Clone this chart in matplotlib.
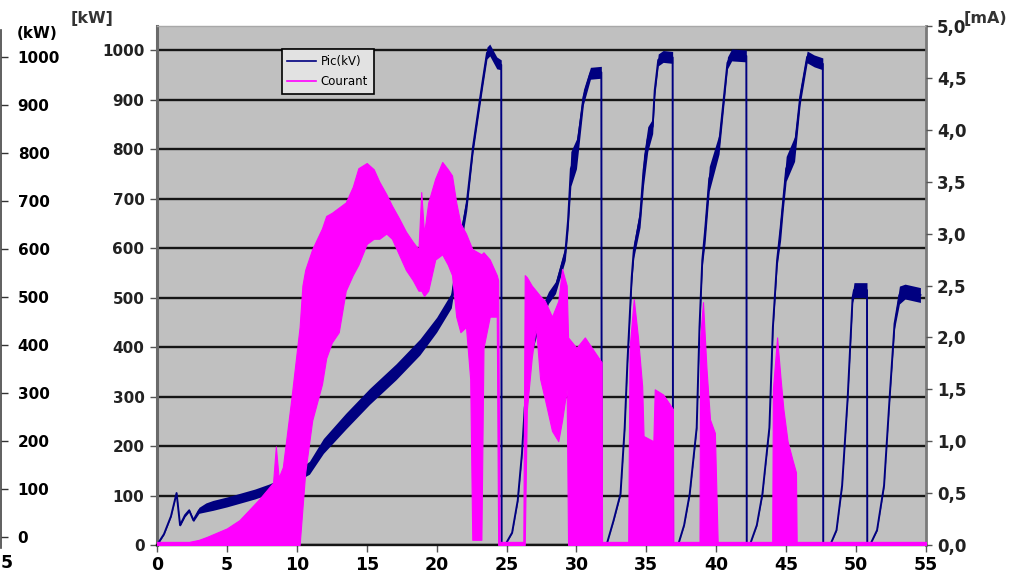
import matplotlib
matplotlib.use('Agg')
import matplotlib.pyplot as plt
import numpy as np
from matplotlib.lines import Line2D

# ---------------- data ----------------
# Pic(kV) series (left axis, kW scale): x position, centre value, half-width of the noisy band
blue_x = [0.0, 0.5, 1.0, 1.4, 1.65, 2.0, 2.3, 2.6, 3.0, 3.5, 4.0, 5.0, 6.0, 7.0, 8.0, 9.0, 10.0,
          10.9, 11.9, 13.5, 15.2, 17.1, 18.8, 20.0, 21.05, 21.6, 22.15, 22.6, 22.95, 23.3, 23.6,
          23.8, 24.3, 24.62, 24.65,
          24.9, 25.4, 25.8, 26.1, 26.3, 26.8, 27.3, 28.0, 28.5, 29.2, 29.4, 29.6, 30.0, 30.5,
          31.0, 31.78, 31.81,
          32.15, 32.65, 33.15, 33.45, 33.65, 33.95, 34.1, 34.55, 34.8, 35.1, 35.45, 35.6, 35.85,
          36.2, 36.88, 36.91,
          37.27, 37.7, 38.1, 38.6, 38.8, 39.0, 39.2, 39.5, 40.2, 40.8, 41.1, 42.15, 42.18,
          42.4, 42.9, 43.3, 43.8, 44.05, 44.35, 44.6, 44.8, 45.0, 45.6, 46.0, 46.5, 47.0, 47.62,
          47.65,
          48.15, 48.6, 49.0, 49.4, 49.75, 49.85, 50.78, 50.8,
          51.0, 51.5, 52.0, 52.4, 52.75, 53.1, 53.5, 54.6]
blue_kw = [0, 22, 58, 105, 40, 60, 70, 50, 70, 76, 80, 87, 95, 103, 113, 125, 140,
           156, 200, 250, 300, 350, 400, 445, 494, 600, 690, 804, 872, 939, 994,
           1000, 974, 970, 0,
           0, 25, 90, 184, 277, 400, 453, 500, 520, 590, 656, 760, 790, 905,
           953, 955, 0,
           0, 49, 103, 237, 372, 540, 595, 662, 757, 820, 846, 919, 980,
           987, 985, 0,
           0, 40, 103, 237, 440, 575, 635, 740, 810, 974, 990, 988, 0,
           0, 40, 103, 237, 440, 575, 640, 700, 760, 800, 905, 986, 978, 972,
           0,
           0, 30, 120, 298, 500, 515, 515, 0,
           0, 30, 120, 298, 447, 505, 512, 505]
blue_spread = [1, 1, 1, 1, 2, 3, 3, 3, 6, 9, 10, 10, 10, 10, 10, 10, 11,
               13, 15, 16, 16, 16, 16, 15, 15, 20, 15, 12, 12, 12, 12,
               12, 12, 10, 0,
               0, 1, 2, 3, 5, 12, 15, 12, 12, 15, 20, 35, 30, 15,
               12, 12, 0,
               0, 1, 2, 3, 5, 12, 15, 20, 30, 25, 15, 12, 12,
               12, 12, 0,
               0, 1, 2, 3, 8, 12, 25, 25, 20, 12, 12, 12, 0,
               0, 1, 2, 3, 8, 12, 25, 20, 25, 25, 15, 12, 12, 12,
               0,
               0, 1, 2, 4, 10, 15, 15, 0,
               0, 1, 2, 4, 10, 18, 15, 15]

# Courant series (right axis, mA): x position, lower and upper edge of the filled band
mag_x = [0.0, 2.3, 3.0, 3.6, 5.0, 5.9, 7.3, 8.3, 8.5, 8.7, 9.0, 9.6, 10.2, 10.4, 10.6, 11.1,
         11.8, 12.1, 12.5, 13.0, 13.5, 14.0, 14.4, 15.0, 15.5, 15.9, 16.4, 16.8, 17.3, 17.8,
         18.3, 18.7, 18.9, 19.1, 19.4, 19.9, 20.4, 20.8, 21.1, 21.4, 21.7, 22.1, 22.4, 22.55,
         23.2, 23.35, 23.8, 24.3, 24.4, 24.5,
         26.2, 26.3, 26.45, 26.8, 27.1, 27.4, 27.75, 28.25, 28.7, 28.97, 29.3, 29.4, 30.0, 30.6,
         31.8, 31.83,
         33.7, 33.8, 34.1, 34.4, 34.7, 34.8, 35.5, 35.6, 36.2, 36.9, 36.93,
         38.8, 38.85, 39.05, 39.3, 39.55, 39.9, 40.1,
         44.0, 44.05, 44.35, 44.6, 44.8, 45.1, 45.45, 45.7, 45.75, 55.0]
mag_lo = [0, 0, 0, 0, 0, 0, 0, 0, 0, 0, 0, 0, 0, 0.35, 0.7, 1.2,
          1.55, 1.8, 1.95, 2.05, 2.45, 2.6, 2.7, 2.9, 2.95, 2.95, 3.0, 2.95, 2.8, 2.65,
          2.55, 2.45, 2.45, 2.4, 2.45, 2.75, 2.8, 2.7, 2.6, 2.2, 2.05, 2.1, 1.6, 0.05,
          0.05, 1.9, 2.2, 2.2, 0, 0,
          0, 0, 1.3, 1.8, 2.1, 1.6, 1.4, 1.1, 1.0, 1.2, 1.5, 0, 0, 0,
          0, 0,
          0, 0, 0, 0, 0, 0, 0, 0, 0, 0, 0,
          0, 0, 0, 0, 0, 0, 0,
          0, 0, 0, 0, 0, 0, 0, 0, 0, 0]
mag_hi = [0.03, 0.03, 0.05, 0.08, 0.16, 0.24, 0.44, 0.6, 0.95, 0.65, 0.75, 1.4, 2.1, 2.5, 2.65, 2.85,
          3.05, 3.17, 3.2, 3.25, 3.3, 3.45, 3.63, 3.68, 3.62, 3.5, 3.38, 3.27, 3.15, 3.02,
          2.92, 2.85, 3.4, 3.0, 3.3, 3.53, 3.69, 3.62, 3.56, 3.3, 3.1, 3.0, 2.9, 2.85,
          2.8, 2.82, 2.75, 2.6, 2.55, 0.03,
          0.03, 2.6, 2.58, 2.5, 2.45, 2.4, 2.35, 2.2, 2.35, 2.66, 2.5, 2.0, 1.9, 2.0,
          1.76, 0.03,
          0.03, 1.9, 2.37, 2.0, 1.53, 1.05, 1.0, 1.5, 1.45, 1.31, 0.03,
          0.03, 2.0, 2.34, 1.7, 1.21, 1.08, 0.03,
          0.03, 1.5, 2.0, 1.6, 1.31, 1.0, 0.82, 0.7, 0.03, 0.03]

x_ticks = list(range(0, 56, 5))
kw_ticks = list(range(0, 1001, 100))
ma_ticks = [0.0, 0.5, 1.0, 1.5, 2.0, 2.5, 3.0, 3.5, 4.0, 4.5, 5.0]
series_labels = ['Pic(kV)', 'Courant']

# ---------------- drawing ----------------
W, H = 1012, 578
fig = plt.figure(figsize=(W / 100, H / 100), dpi=100)
fig.patch.set_facecolor('white')

def fx(px):
    return px / W

def fy(py):
    return 1 - py / H

NAVY = '#000080'
MAG = '#ff00ff'
BOLD = dict(fontweight='bold', family='DejaVu Sans')

ax = fig.add_axes([fx(157), fy(545), fx(926) - fx(157), fy(26) - fy(545)])
ax.set_facecolor('#c0c0c0')
ax.set_xlim(0, 55)
ax.set_ylim(0, 1048.5)
ax.set_xticks(x_ticks)
ax.set_yticks(kw_ticks)
ax.set_xticklabels([str(v) for v in x_ticks], fontsize=12.5, **BOLD)
ax.set_yticklabels([str(v) for v in kw_ticks], fontsize=11, color='#222222', **BOLD)
ax.grid(axis='y', color='#151515', lw=1.7)
ax.set_axisbelow(True)
ax.tick_params(axis='y', length=5, width=1, color='#555555', pad=4)
ax.tick_params(axis='x', length=5, width=1, color='#555555', pad=3)
ax.spines['left'].set_color('#6a6a6a')
ax.spines['left'].set_linewidth(2.2)
ax.spines['right'].set_color('#7a7a7a')
ax.spines['right'].set_linewidth(2)
ax.spines['top'].set_color('#a8a8a8')
ax.spines['top'].set_linewidth(1)
ax.spines['bottom'].set_color('#151515')
ax.spines['bottom'].set_linewidth(1.7)

bx = np.array(blue_x)
by = np.array(blue_kw, dtype=float)
bs = np.array(blue_spread, dtype=float)
ax.fill_between(bx, by - bs, by + bs, color=NAVY, lw=0, zorder=3)
ax.plot(bx, by, color=NAVY, lw=1.4, zorder=3)

ax2 = ax.twinx()
ax2.set_ylim(0, 5.0)
ax2.set_yticks(ma_ticks)
ax2.set_yticklabels([f'{v:.1f}'.replace('.', ',') for v in ma_ticks], fontsize=12, color='#222222', **BOLD)
ax2.tick_params(axis='y', length=4, width=1, color='#555555', pad=4)
for s in ax2.spines.values():
    s.set_visible(False)
ax2.fill_between(mag_x, mag_lo, mag_hi, facecolor=MAG, edgecolor=MAG, lw=0.8, zorder=2)

leg = ax2.legend([Line2D([], [], color=NAVY, lw=1.2), Line2D([], [], color=MAG, lw=1.2)],
                 series_labels,
                 loc='upper left', bbox_to_anchor=(0.162, 0.955), borderaxespad=0,
                 fontsize=8.5, frameon=True, fancybox=False, handlelength=2.4,
                 handletextpad=0.4, borderpad=0.5, labelspacing=0.6)
leg.get_frame().set_edgecolor('black')
leg.get_frame().set_facecolor('#e2e2e2')
leg.get_frame().set_alpha(1)
leg.get_frame().set_linewidth(1.2)

# partially visible axis of a neighbouring chart at the far left
ax3 = fig.add_axes([fx(-60), fy(548), fx(61), fy(30) - fy(548)])
ax3.set_facecolor('none')
ax3.set_ylim((537 - 548) / 0.48, (537 - 30) / 0.48)
ax3.set_xlim(0, 1)
ax3.set_xticks([])
ax3.set_yticks(kw_ticks)
ax3.yaxis.tick_right()
ax3.set_yticklabels([str(v) for v in kw_ticks], fontsize=11, **BOLD)
ax3.tick_params(axis='y', length=5, width=1, direction='out', pad=7, color='#333333')
for k in ['left', 'top', 'bottom']:
    ax3.spines[k].set_visible(False)
ax3.spines['right'].set_color('#444444')
ax3.spines['right'].set_linewidth(1.2)

fig.text(fx(37), fy(34), '(kW)', ha='center', va='center', fontsize=11, **BOLD)
fig.text(fx(92), fy(19), '[kW]', ha='center', va='center', fontsize=11.5, color='#333333', **BOLD)
fig.text(fx(964), fy(19), '[mA)', ha='left', va='center', fontsize=11.5, color='#333333', **BOLD)
fig.text(fx(7), fy(563), '5', ha='center', va='center', fontsize=12.5, **BOLD)

fig.savefig('out.png', dpi=100)
